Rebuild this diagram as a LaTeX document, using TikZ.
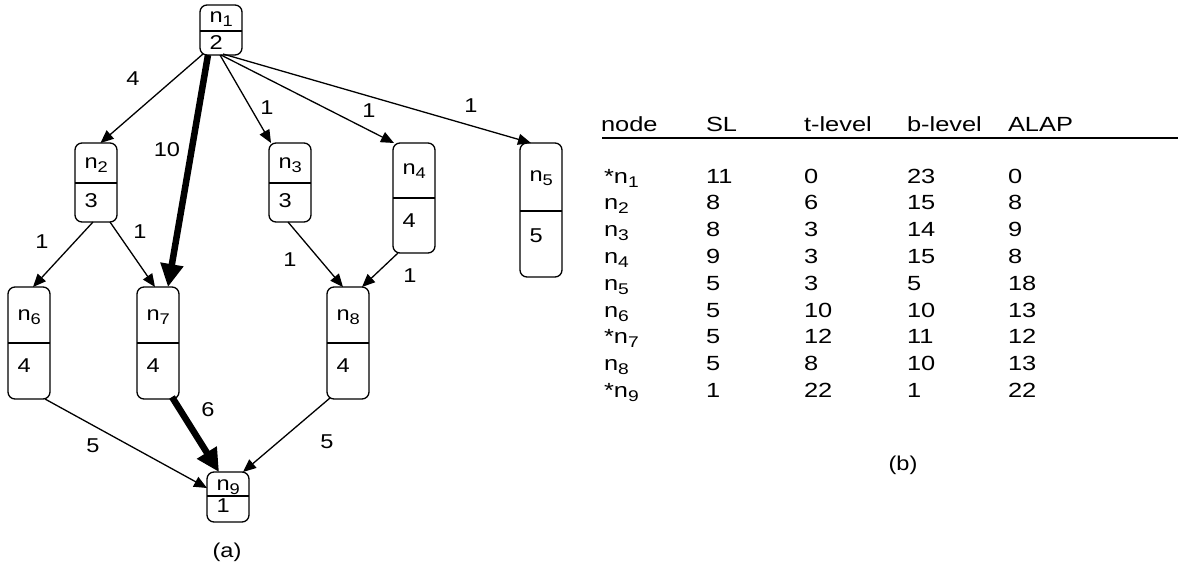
\documentclass[tikz,border=0pt]{standalone}
\usepackage{fontspec}
\setmainfont[FakeStretch=1.18]{Liberation Sans}
\newfontfamily\tabfont[FakeStretch=1.24]{Liberation Sans}
\usetikzlibrary{arrows.meta,calc}
\newcommand\nsub[1]{\raisebox{-4pt}{\fontsize{15.5}{15.5}\selectfont #1}}
\newcommand\tnode[9]{%
  \node[taskbox, minimum height={(#5-#3)*1pt}] (#1) at (#2,{(#3+#5)/2}) {};
  \draw[divline] (#1.west) ++(0,{#4-(#3+#5)/2}) coordinate (#1dl) -- ++(42,0) coordinate (#1dr);
  \node[txt, anchor=base west] (#1k) at (#2-11.5,#8) {n\nsub{#6}};
  \node[txt, anchor=base west] (#1v) at (#2-11.5,#9) {#7};
}
\begin{document}
\begin{tikzpicture}[x=1pt,y=-1pt,
  txt/.style={font=\fontsize{20}{24}\selectfont, inner sep=0pt, outer sep=0pt},
  taskbox/.style={draw, line width=1.3pt, rounded corners=7pt, minimum width=42pt, inner sep=0pt, outer sep=0pt},
  divline/.style={line width=1.3pt},
  edge/.style={line width=1.3pt, -{Triangle[length=13pt,width=11pt]}},
  heavy/.style={line width=6.5pt, -{Triangle[length=23pt,width=22pt]}},
  elbl/.style={txt, anchor=center},
  cell/.style={font=\tabfont\fontsize{20.5}{24}\selectfont, inner sep=0pt, outer sep=0pt, anchor=base west}]
\useasboundingbox (0,0) rectangle (1178,567);
% nodes: name, cx, top, divider, bottom, index, value, label baseline, value baseline
\tnode{n1}{221}{5}{31}{55}{1}{2}{23}{50}
\tnode{n2}{96}{143}{183}{222}{2}{3}{168}{207}
\tnode{n3}{290}{143}{183}{222}{3}{3}{168}{207}
\tnode{n4}{414}{143}{198}{253}{4}{4}{175}{227}
\tnode{n5}{541}{143}{211}{277}{5}{5}{182}{242}
\tnode{n6}{29}{287}{343}{399}{6}{4}{320}{372}
\tnode{n7}{158}{287}{343}{399}{7}{4}{320}{372}
\tnode{n8}{348}{287}{343}{399}{8}{4}{320}{372}
\tnode{n9}{228}{472}{496}{522}{9}{1}{490}{512}
% edges
\draw[edge] ($(n1.south west)+(3,-1)$) -- ($(n2.north)+(4.5,0)$);
\draw[heavy] ($(n1.south)+(-13,0)$) -- ($(n7.north)+(10,0)$);
\draw[edge] ($(n1.south)+(-1,0)$) -- ($(n3.north west)+(2,0)$);
\draw[edge] ($(n1.south)+(0,0)$) -- ($(n4.north west)+(1,0)$);
\draw[edge] ($(n1.south)+(2,-1)$) -- ($(n5.north west)+(11,0)$);
\draw[edge] ($(n2.south)+(-3,0)$) -- ($(n6.north)+(4,0)$);
\draw[edge] ($(n2.south)+(14,0)$) -- ($(n7.north)+(-3,0)$);
\draw[edge] ($(n3.south)+(-2,0)$) -- ($(n8.north)+(-5,0)$);
\draw[edge] ($(n4.south)+(-16,0)$) -- ($(n8.north)+(14,0)$);
\draw[edge] ($(n6.south)+(16,0)$) -- ($(n9.west)+(0,-9)$);
\draw[heavy] ($(n7.south)+(14,-2)$) -- ($(n9.north)+(-9,0)$);
\draw[edge] ($(n8.south)+(-18,-1)$) -- ($(n9.north)+(15,0)$);
% edge labels
\node[elbl] (l12) at (133,79) {4};
\node[elbl] (l17) at (167,150) {10};
\node[elbl] (l13) at (267,108) {1};
\node[elbl] (l14) at (369,111) {1};
\node[elbl] (l15) at (471,106) {1};
\node[elbl] (l26) at (42,242) {1};
\node[elbl] (l27) at (140,232) {1};
\node[elbl] (l38) at (290,260) {1};
\node[elbl] (l48) at (410,276) {1};
\node[elbl] (l69) at (93,446) {5};
\node[elbl] (l79) at (208,410) {6};
\node[elbl] (l89) at (327,442) {5};
\node[elbl] (capa) at (227,552) {(a)};
\node[elbl] (capb) at (903,465) {(b)};
% table
\node[cell] (h1) at (601,131.5) {node};
\node[cell] (h2) at (706,131.5) {SL};
\node[cell] (h3) at (804,131.5) {t-level};
\node[cell] (h4) at (907,131.5) {b-level};
\node[cell] (h5) at (1008,131.5) {ALAP};
\coordinate (rl) at (602,138);
\coordinate (rr) at (1178,138);
\draw[line width=2.5pt] (rl) -- (rr);
\foreach \nm/\sl/\tl/\bl/\al [count=\i from 0] in
  {*n\nsub{1}/11/0/23/0, n\nsub{2}/8/6/15/8, n\nsub{3}/8/3/14/9, n\nsub{4}/9/3/15/8,
   n\nsub{5}/5/3/5/18, n\nsub{6}/5/10/10/13, *n\nsub{7}/5/12/11/12, n\nsub{8}/5/8/10/13,
   *n\nsub{9}/1/22/1/22}{
  \node[cell] (r\i a) at (604,{183+26.8*\i}) {\nm};
  \node[cell] (r\i b) at (706,{183+26.8*\i}) {\sl};
  \node[cell] (r\i c) at (804,{183+26.8*\i}) {\tl};
  \node[cell] (r\i d) at (907,{183+26.8*\i}) {\bl};
  \node[cell] (r\i e) at (1008,{183+26.8*\i}) {\al};
}
\end{tikzpicture}
\end{document}
